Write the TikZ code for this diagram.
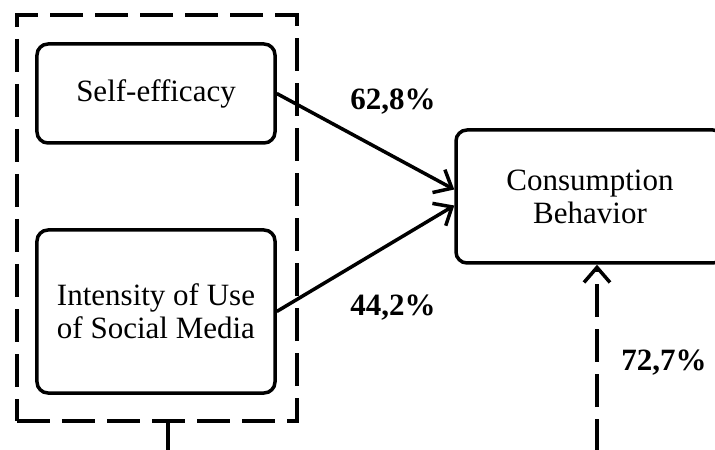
\documentclass[tikz,border=0pt]{standalone}
\usepackage{fontspec}
\setmainfont{Liberation Serif}
\usetikzlibrary{arrows.meta}

\begin{document}
\begin{tikzpicture}[x=1bp,y=-1bp,font=\fontsize{31bp}{33bp}\selectfont]
	\tikzstyle{factor}=[draw=black,line width=3.5bp,rounded corners=11bp,align=center,inner sep=0pt]
	\tikzstyle{groupbox}=[draw=black,line width=3.5bp,dash pattern=on 33bp off 12bp,inner sep=0pt]
	\tikzstyle{effect}=[font=\fontsize{31bp}{33bp}\selectfont\bfseries]
	\tikzstyle{link}=[line width=3.5bp,-{Straight Barb[length=15bp,width=26bp,line width=3.5bp]}]
	\useasboundingbox (0,0) rectangle (715,450);
	\node[groupbox,minimum width=280bp,minimum height=406bp](grp) at (157,218) {};
	\node[factor,minimum width=238bp,minimum height=99bp](se) at (156,93.5) {Self-efficacy};
	\node[factor,minimum width=238bp,minimum height=163bp](ius) at (156,311.5) {Intensity of Use\\of Social Media};
	\node[factor,minimum width=268bp,minimum height=133bp](cb) at (590,196.5) {Consumption\\Behavior};
	\node[effect](p1) at (393,102) {62,8\%};
	\node[effect](p2) at (393,308) {44,2\%};
	\node[effect](p3) at (664,363) {72,7\%};
	\coordinate (grpout) at (168,452);
	\coordinate (cbin) at (597,452);
	\draw[link](se.east) -- ([yshift=7bp]cb.west);
	\draw[link](ius.east) -- ([yshift=-9bp]cb.west);
	\draw[line width=3.5bp](grpout |- grp.south) -- (grpout);
	\draw[link,dash pattern=on 33bp off 12bp](cbin) -- (cbin |- cb.south);
\end{tikzpicture}
\end{document}
